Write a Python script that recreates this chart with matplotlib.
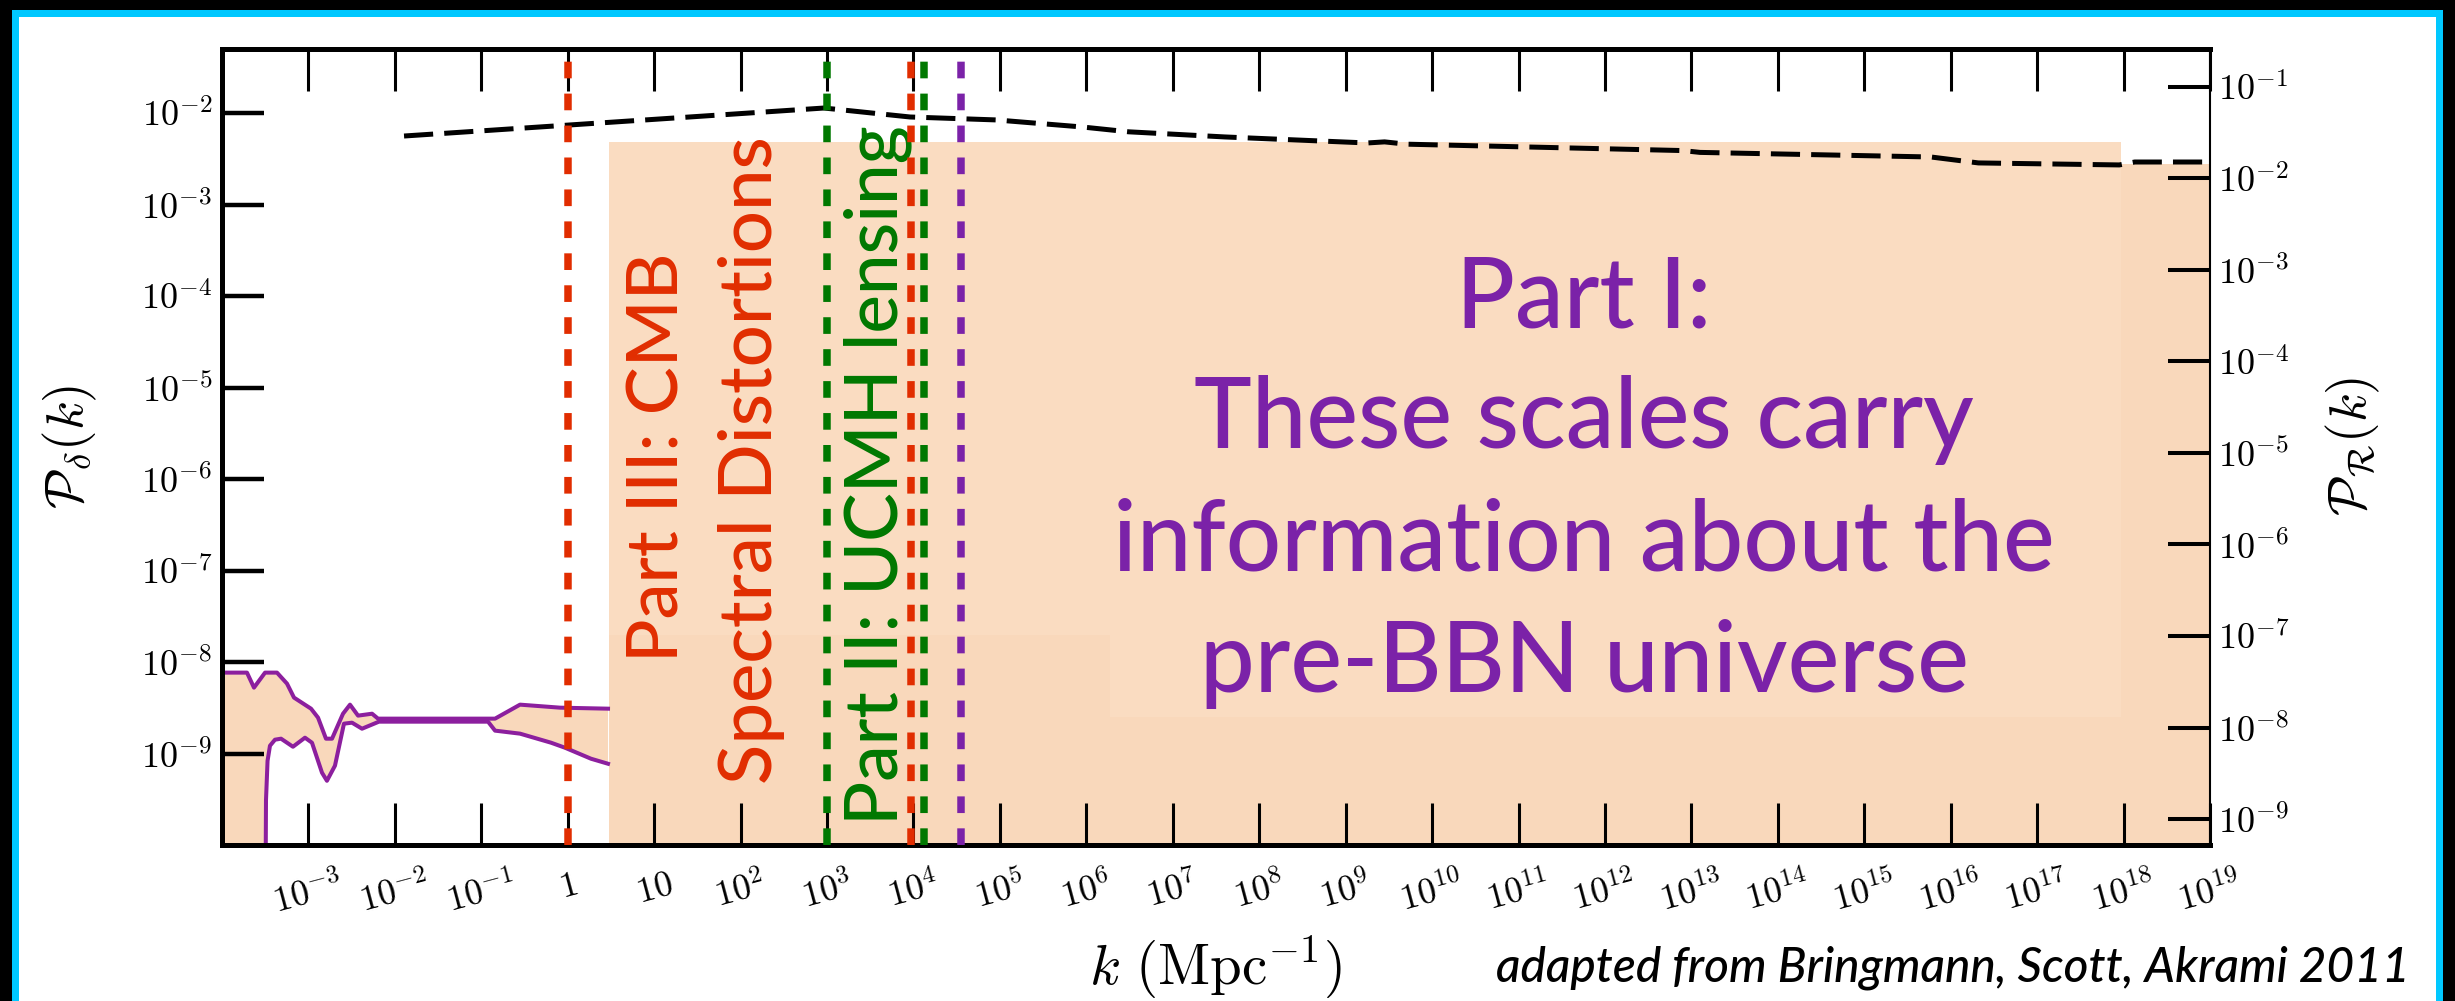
import numpy as np
import matplotlib
matplotlib.use("Agg")
import matplotlib.pyplot as plt
from matplotlib.patches import Rectangle
from matplotlib.ticker import FixedLocator, FixedFormatter, NullLocator

plt.rcParams["mathtext.fontset"] = "cm"
plt.rcParams["lines.scale_dashes"] = False

# ---------------------------------------------------------------- data
k_tick_exp = list(range(-3, 20))
k_tick_labels = ["$10^{-3}$", "$10^{-2}$", "$10^{-1}$", "$1$", "$10$",
                 "$10^{2}$", "$10^{3}$", "$10^{4}$", "$10^{5}$", "$10^{6}$",
                 "$10^{7}$", "$10^{8}$", "$10^{9}$", "$10^{10}$", "$10^{11}$",
                 "$10^{12}$", "$10^{13}$", "$10^{14}$", "$10^{15}$", "$10^{16}$",
                 "$10^{17}$", "$10^{18}$", "$10^{19}$"]
pd_tick_exp = list(range(-9, -1))
pd_tick_labels = ["$10^{-9}$", "$10^{-8}$", "$10^{-7}$", "$10^{-6}$",
                  "$10^{-5}$", "$10^{-4}$", "$10^{-3}$", "$10^{-2}$"]
pr_tick_exp = list(range(-9, 0))
pr_tick_labels = ["$10^{-9}$", "$10^{-8}$", "$10^{-7}$", "$10^{-6}$",
                  "$10^{-5}$", "$10^{-4}$", "$10^{-3}$", "$10^{-2}$", "$10^{-1}$"]

# axis ranges (log10)
logk_lim = (-4.0, 19.0)
log_pd_lim = (-10.0, -1.30)
log_pr_lim = (-9.284, -0.585)

# CMB + LSS measured band, log10 k vs log10 P_delta
band_upper_logk = [-4.00, -3.711, -3.630, -3.502, -3.364, -3.248, -3.167, -2.970,
                   -2.889, -2.797, -2.727, -2.600, -2.519, -2.426, -2.264, -2.195,
                   -0.922, -0.841, -0.552, -0.089, 0.466]
band_upper_logp = [-8.116, -8.116, -8.280, -8.116, -8.116, -8.236, -8.389, -8.510,
                   -8.608, -8.838, -8.838, -8.565, -8.466, -8.586, -8.565, -8.619,
                   -8.619, -8.619, -8.466, -8.499, -8.510]
band_lower_logk = [-4.00, -3.499, -3.491, -3.473, -3.445, -3.387, -3.317, -3.179,
                   -3.040, -2.959, -2.843, -2.786, -2.693, -2.589, -2.496, -2.380,
                   -2.184, -0.922, -0.841, -0.552, -0.193, -0.031, 0.269, 0.466]
band_lower_logp = [-11.0, -11.0, -9.51, -9.08, -8.915, -8.849, -8.838, -8.926,
                   -8.827, -8.882, -9.210, -9.298, -9.133, -8.674, -8.663, -8.729,
                   -8.652, -8.652, -8.750, -8.783, -8.882, -8.937, -9.057, -9.112]

# upper limit on the curvature spectrum, log10 k vs log10 P_R
limit_logk = [-1.894, 2.965, 3.96, 4.955, 5.95, 6.49, 7.60, 9.25, 9.45, 9.70,
              12.90, 13.10, 15.77, 16.32, 17.95, 18.13, 19.0]
limit_logp = [-1.536, -1.230, -1.328, -1.360, -1.437, -1.490, -1.546, -1.612,
              -1.600, -1.625, -1.695, -1.715, -1.765, -1.830, -1.852, -1.820, -1.820]

# shaded region probed by the small-scale methods (log10 k, log10 P_R top)
shade_logk = [0.48, 17.97, 17.97, 19.0]
shade_top_logp = [-1.60, -1.60, -1.84, -1.84]

# boundaries of the regimes (k in Mpc^-1)
cmb_k = 1.0
ucmh_k_low = 1.0e3
dist_k_high = 9.4e3
ucmh_k_high = 1.33e4
bbn_k = 3.5e4

# ---------------------------------------------------------------- style
PEACH = "#f9d8bb"
PEACH_BOX = "#fadcc1"
RED = "#e12d00"
GREEN = "#007800"
PURPLE = "#7b22a8"
BAND_PURPLE = "#8c1f9e"
CYAN = "#00c8ff"
TEXT_FONT = "Lato"
TEXT_WEIGHT = "medium"

W, H = 2455, 1001
fig = plt.figure(figsize=(W / 100, H / 100), dpi=100, facecolor="black")

# slide frame
fig.add_artist(Rectangle((12 / W, 0), (2443 - 12) / W, 1 - 10 / H,
                         transform=fig.transFigure, facecolor=CYAN,
                         edgecolor="none", zorder=-20))
fig.add_artist(Rectangle((19 / W, 0), (2436 - 19) / W, 1 - 17 / H,
                         transform=fig.transFigure, facecolor="white",
                         edgecolor="none", zorder=-19))

rect = [222 / W, 1 - 845 / H, (2210 - 222) / W, (845 - 49) / H]
ax = fig.add_axes(rect)
ax2 = ax.twinx()
# left axis sits on top so its ticks and annotations stay visible
ax.set_zorder(ax2.get_zorder() + 1)
ax.patch.set_visible(False)
ax2.patch.set_visible(True)
ax2.patch.set_facecolor("white")

for a in (ax, ax2):
    a.set_xscale("log")
    a.set_yscale("log")
    a.set_xlim(10 ** logk_lim[0], 10 ** logk_lim[1])
ax.set_ylim(10 ** log_pd_lim[0], 10 ** log_pd_lim[1])
ax2.set_ylim(10 ** log_pr_lim[0], 10 ** log_pr_lim[1])

# ---- right axis content: shaded region and upper limit
sk = 10 ** np.array(shade_logk)
ax2.fill_between(sk, 10 ** np.array(shade_top_logp), 10 ** (log_pr_lim[0] - 1),
                 color=PEACH, lw=0, zorder=1)
# text panels, a shade lighter
ax2.add_patch(Rectangle((10 ** 0.478, 10 ** -6.989), 10 ** 6.274 - 10 ** 0.478,
                        10 ** -1.60 - 10 ** -6.989, facecolor=PEACH_BOX,
                        edgecolor="none", zorder=1.1))
ax2.add_patch(Rectangle((10 ** 6.274, 10 ** -7.885), 10 ** 17.97 - 10 ** 6.274,
                        10 ** -1.60 - 10 ** -7.885, facecolor=PEACH_BOX,
                        edgecolor="none", zorder=1.1))
ax2.plot(10 ** np.array(limit_logk), 10 ** np.array(limit_logp), color="black",
         lw=3.6, dashes=(21, 8), zorder=3)

# ---- left axis content: measured band
bx = np.concatenate([band_upper_logk, band_lower_logk[::-1]])
by = np.concatenate([band_upper_logp, band_lower_logp[::-1]])
ax.fill(10 ** bx, 10 ** by, color=PEACH, lw=0, zorder=1)
ax.plot(10 ** np.array(band_upper_logk), 10 ** np.array(band_upper_logp),
        color=BAND_PURPLE, lw=2.9, zorder=2)
ax.plot(10 ** np.array(band_lower_logk), 10 ** np.array(band_lower_logp),
        color=BAND_PURPLE, lw=2.9, zorder=2)

# ---- annotations
r = fig.canvas.get_renderer()


def vtext(x, y, s, color, target_len):
    t = ax.text(x, y, s, color=color, rotation=90, rotation_mode="anchor",
                ha="center", va="baseline", family=TEXT_FONT,
                weight=TEXT_WEIGHT, fontsize=50, zorder=4)
    bb = t.get_window_extent(renderer=r)
    t.set_fontsize(50 * target_len / bb.height)
    return t


vtext(10 ** 1.276, 10 ** -5.762, "Part III: CMB", RED, 409)
vtext(10 ** 2.364, 10 ** -5.795, "Spectral Distortions", RED, 648)
vtext(10 ** 3.810, 10 ** -5.959, "Part II: UCMH lensing", GREEN, 699)

part1_lines = ["Part I:", "These scales carry", "information about the",
               "pre-BBN universe"]
part1_base = [-4.341, -5.664, -6.998, -8.333]
p1 = [ax.text(10 ** 11.76, 10 ** yb, s, color=PURPLE, ha="center",
              va="baseline", family=TEXT_FONT, weight=TEXT_WEIGHT,
              fontsize=60, zorder=4)
      for s, yb in zip(part1_lines, part1_base)]
w3 = p1[2].get_window_extent(renderer=r).width
for t in p1:
    t.set_fontsize(60 * 942 / w3)

line_style = dict(lw=5.4, dashes=(12, 11), ymin=0, ymax=0.99, zorder=5)
ax.axvline(cmb_k, color=RED, **line_style)
ax.axvline(ucmh_k_low, color=GREEN, **line_style)
ax.axvline(dist_k_high, color=RED, **line_style)
ax.axvline(ucmh_k_high, color=GREEN, **line_style)
ax.axvline(bbn_k, color=PURPLE, **line_style)

# ---- ticks and spines
ax.xaxis.set_major_locator(FixedLocator(10.0 ** np.array(k_tick_exp)))
ax.xaxis.set_major_formatter(FixedFormatter(k_tick_labels))
ax.xaxis.set_minor_locator(NullLocator())
ax.yaxis.set_major_locator(FixedLocator(10.0 ** np.array(pd_tick_exp)))
ax.yaxis.set_major_formatter(FixedFormatter(pd_tick_labels))
ax.yaxis.set_minor_locator(NullLocator())
ax2.yaxis.set_major_locator(FixedLocator(10.0 ** np.array(pr_tick_exp)))
ax2.yaxis.set_major_formatter(FixedFormatter(pr_tick_labels))
ax2.yaxis.set_minor_locator(NullLocator())
ax2.xaxis.set_minor_locator(NullLocator())

ax.tick_params(axis="x", which="major", direction="in", length=30, width=2.2,
               top=True, bottom=True, labelsize=26, pad=16, labelrotation=15)
ax.tick_params(axis="y", which="major", direction="in", length=30, width=3.2,
               left=True, right=False, labelsize=26, pad=7)
ax2.tick_params(axis="y", which="major", direction="in", length=30, width=2.9,
                right=True, left=False, labelsize=26, pad=6)

for side in ("left", "top", "bottom"):
    ax.spines[side].set_linewidth(3.6)
    ax2.spines[side].set_visible(False)
ax.spines["right"].set_visible(False)
ax2.spines["right"].set_linewidth(1.5)

ax.set_xlabel(r"$k\ (\mathrm{Mpc}^{-1})$", fontsize=41)
ax.xaxis.label.set_va("center")
ax.xaxis.set_label_coords(0.4995, -0.1533)
ax.set_ylabel(r"$\mathcal{P}_{\delta}(k)$", fontsize=38)
ax.yaxis.label.set_va("center")
ax.yaxis.set_label_coords(-0.0765, 0.5)
ax2.set_ylabel(r"$\mathcal{P}_{\mathcal{R}}(k)$", fontsize=38)
ax2.yaxis.label.set_va("center")
ax2.yaxis.set_label_coords(1.0719, 0.5)

credit = fig.text(2410 / W, 1 - 982 / H,
                  "adapted from Bringmann, Scott, Akrami 2011",
                  ha="right", va="baseline", family=TEXT_FONT, style="italic",
                  weight=TEXT_WEIGHT, fontsize=30, color="black")
cw = credit.get_window_extent(renderer=r).width
credit.set_fontsize(30 * 913 / cw)

fig.savefig("out.png", dpi=100, facecolor=fig.get_facecolor())
